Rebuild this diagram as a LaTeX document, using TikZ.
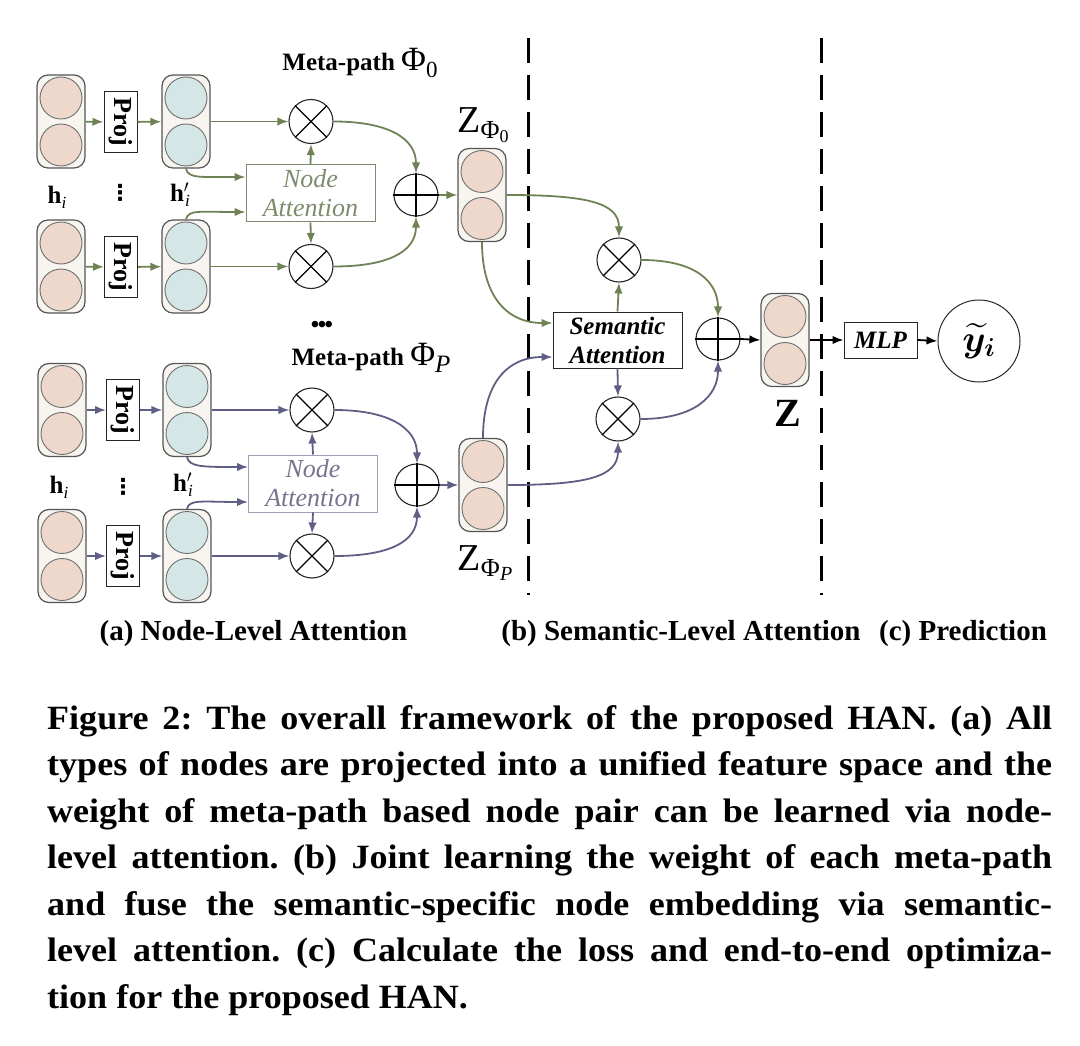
\documentclass[tikz,border=0pt]{standalone}
\usepackage{amsmath,bm}
\usepackage{fontspec}
\setmainfont{Liberation Serif}[ItalicFont={Liberation Serif Italic}, BoldFont={Liberation Serif Bold}, BoldItalicFont={Liberation Serif Bold Italic}]
\newfontfamily\capfont[FakeStretch=1.06]{Liberation Serif}
\newfontfamily\djv{DejaVu Sans}
\frenchspacing
\usetikzlibrary{arrows.meta,shapes.geometric}
\definecolor{grn}{HTML}{6F8255}
\definecolor{pur}{HTML}{5F5E85}
\definecolor{grnbox}{HTML}{7D8C6C}
\definecolor{purbox}{HTML}{A39DB8}
\definecolor{purtxt}{HTML}{77738F}
\definecolor{stk}{HTML}{555555}
\definecolor{stkfill}{HTML}{F8F5F0}
\definecolor{salmon}{HTML}{EDD8CB}
\definecolor{paleblue}{HTML}{D5E6E6}
\definecolor{cellline}{HTML}{707070}
\newcommand{\mystack}[3]{%
  \node[stackbox] (#1) at (#2) {};
  \node[cell, fill=#3] (#1a) at ([yshift=23.5pt]#1.center) {};
  \node[cell, fill=#3] (#1b) at ([yshift=-23.5pt]#1.center) {};}
\newcommand{\mulmark}[1]{%
  \draw[line width=1.1pt] (#1.north east) -- (#1.south west);
  \draw[line width=1.1pt] (#1.north west) -- (#1.south east);}
\newcommand{\addmark}[1]{%
  \draw[line width=1.1pt] (#1.north) -- (#1.south);
  \draw[line width=1.1pt] (#1.west) -- (#1.east);}
\begin{document}
\begin{tikzpicture}[x=1pt,y=-1pt,
  >={Latex[length=11pt,width=8.5pt]},
  conn/.style={line width=1.8pt, ->},
  gline/.style={conn, draw=grn},
  pline/.style={conn, draw=pur},
  kline/.style={conn, draw=black},
  stackbox/.style={draw=stk, fill=stkfill, rounded corners=11pt, minimum width=48pt, minimum height=93pt, line width=1.2pt, inner sep=0pt},
  cell/.style={circle, draw=cellline, line width=0.9pt, minimum size=42pt, inner sep=0pt},
  projbox/.style={draw=black!85, line width=1pt, fill=white, minimum width=61pt, minimum height=33pt, inner sep=0pt, rotate=-90, font=\fontsize{26}{26}\selectfont\bfseries},
  mulnode/.style={circle, draw=black!85, line width=1.1pt, minimum size=44pt, inner sep=0pt},
  addnode/.style={ellipse, draw=black!85, line width=1.1pt, minimum width=44pt, minimum height=42pt, inner sep=0pt},
  attbox/.style={draw, line width=1pt, minimum width=129pt, minimum height=57pt, inner sep=0pt, align=center, font=\fontsize{26}{29}\selectfont\itshape},
  divider/.style={line width=3pt, dash pattern=on 25pt off 12pt},
  lbl/.style={inner sep=0pt},
]
\useasboundingbox (0,0) rectangle (1080,1046);

% ---------- dividers ----------
\coordinate (d1t) at (528,38); \coordinate (d1b) at (528,595);
\coordinate (d2t) at (821,38); \coordinate (d2b) at (821,595);
\draw[divider] (d1t) -- (d1b);
\draw[divider] (d2t) -- (d2b);

% ---------- meta-path 0 ----------
\mystack{s1}{61,121.5}{salmon}
\mystack{s1o}{186,121.5}{paleblue}
\mystack{s2}{61,266.5}{salmon}
\mystack{s2o}{186,266.5}{paleblue}
\node[projbox] (p1) at (120.5,122) {Proj};
\node[projbox] (p2) at (121,267) {Proj};
\node[mulnode] (o1) at (311,121.5) {}; \mulmark{o1}
\node[mulnode] (o2) at (311,266.5) {}; \mulmark{o2}
\node[addnode] (a1) at (416,195) {}; \addmark{a1}
\node[attbox, draw=grnbox, text=grnbox] (na1) at (310.5,193.5) {Node\\Attention};
\mystack{z0}{482,195}{salmon}

\node[lbl] (mp0) at (360,63) {\fontsize{25}{25}\selectfont\bfseries Meta-path {\mdseries\fontsize{34}{34}\selectfont Φ}\raisebox{-7pt}{\mdseries\fontsize{23}{23}\selectfont 0}};
\node[lbl] (hi1) at (57,197) {\fontsize{25}{25}\selectfont\textbf{h}\raisebox{-5pt}{\fontsize{17}{17}\selectfont\itshape i}};
\node[lbl] (vd1) at (120,193) {\fontsize{22}{22}\selectfont\djv\bfseries ⋮};
\node[lbl] (hp1) at (180,195) {\fontsize{25}{25}\selectfont\textbf{h}$'$\kern-4pt\raisebox{-5pt}{\fontsize{17}{17}\selectfont\itshape i}};
\node[lbl] (lz0) at (483,125) {\fontsize{38}{38}\selectfont Z\raisebox{-6pt}{\fontsize{26}{26}\selectfont Φ\raisebox{-4pt}{\fontsize{18}{18}\selectfont 0}}};

\draw[gline] (s1) -- (p1);
\draw[gline] (p1) -- (s1o);
\draw[gline] (s2) -- (p2);
\draw[gline] (p2) -- (s2o);
\draw[gline] (s1o.east) -- (o1.west);
\draw[gline] (s2o.east) -- (o2.west);
\draw[gline] (s1o.south) .. controls +(2,10) and +(-45,0) .. ([yshift=16.5pt]na1.west);
\draw[gline] (s2o.north) .. controls +(2,-10) and +(-45,0) .. ([yshift=-18.5pt]na1.west);
\draw[gline] (na1.north) -- (o1.south);
\draw[gline] (na1.south) -- (o2.north);
\draw[gline] (o1.east) .. controls +(55,0) and +(0,-35) .. (a1.north);
\draw[gline] (o2.east) .. controls +(55,0) and +(0,35) .. (a1.south);
\draw[gline] (a1.east) -- (z0.west);

% ---------- meta-path P ----------
\node[lbl] (dots) at (322,327) {\fontsize{24}{24}\selectfont\bfseries •\kern-1.5pt•\kern-1.5pt•};
\node[lbl] (mpP) at (371,358) {\fontsize{25}{25}\selectfont\bfseries Meta-path {\mdseries\fontsize{34}{34}\selectfont Φ}\raisebox{-7pt}{\mdseries\itshape\fontsize{25}{25}\selectfont P}};
\mystack{s3}{62,410}{salmon}
\mystack{s3o}{187,410}{paleblue}
\mystack{s4}{62,556}{salmon}
\mystack{s4o}{187,556}{paleblue}
\node[projbox] (p3) at (123,410) {Proj};
\node[projbox] (p4) at (123,556) {Proj};
\node[mulnode] (o3) at (312,410) {}; \mulmark{o3}
\node[mulnode] (o4) at (312,556) {}; \mulmark{o4}
\node[addnode] (a2) at (417,485) {}; \addmark{a2}
\node[attbox, draw=purbox, text=purtxt] (na2) at (313,483.5) {Node\\Attention};
\mystack{zp}{483,485}{salmon}

\node[lbl] (hi2) at (59,487) {\fontsize{25}{25}\selectfont\textbf{h}\raisebox{-5pt}{\fontsize{17}{17}\selectfont\itshape i}};
\node[lbl] (vd2) at (123,487) {\fontsize{22}{22}\selectfont\djv\bfseries ⋮};
\node[lbl] (hp2) at (183,485) {\fontsize{25}{25}\selectfont\textbf{h}$'$\kern-4pt\raisebox{-5pt}{\fontsize{17}{17}\selectfont\itshape i}};
\node[lbl] (lzp) at (485,563) {\fontsize{38}{38}\selectfont Z\raisebox{-6pt}{\fontsize{26}{26}\selectfont Φ\raisebox{-4pt}{\itshape\fontsize{20}{20}\selectfont P}}};

\draw[pline] (s3) -- (p3);
\draw[pline] (p3) -- (s3o);
\draw[pline] (s4) -- (p4);
\draw[pline] (p4) -- (s4o);
\draw[pline] (s3o.east) -- (o3.west);
\draw[pline] (s4o.east) -- (o4.west);
\draw[pline] (s3o.south) .. controls +(2,10) and +(-45,0) .. ([yshift=16.5pt]na2.west);
\draw[pline] (s4o.north) .. controls +(2,-10) and +(-45,0) .. ([yshift=-18.5pt]na2.west);
\draw[pline] (na2.north) -- (o3.south);
\draw[pline] (na2.south) -- (o4.north);
\draw[pline] (o3.east) .. controls +(55,0) and +(0,-35) .. (a2.north);
\draw[pline] (o4.east) .. controls +(55,0) and +(0,35) .. (a2.south);
\draw[pline] (a2.east) -- (zp.west);

% ---------- semantic level ----------
\node[mulnode] (so1) at (619,260) {}; \mulmark{so1}
\node[mulnode] (so2) at (618,419) {}; \mulmark{so2}
\node[attbox, draw=black!85, minimum height=56pt, font=\fontsize{25}{29}\selectfont\bfseries\itshape] (sa) at (617.5,340) {Semantic\\Attention};
\node[addnode] (sp) at (718,339) {}; \addmark{sp}
\mystack{zz}{785,340}{salmon}
\node[lbl] (lz) at (788,413) {\fontsize{40}{40}\selectfont\bfseries Z};

\draw[gline] (z0.east) .. controls +(80,0) and +(0,-35) .. (so1.north);
\draw[gline] (z0.south) .. controls +(0,55) and +(-45,0) .. ([yshift=17pt]sa.west);
\draw[pline] (zp.north) .. controls +(0,-55) and +(-45,0) .. ([yshift=-17pt]sa.west);
\draw[pline] (zp.east) .. controls +(80,0) and +(0,35) .. (so2.south);
\draw[gline] (sa.north) -- (so1.south);
\draw[pline] (sa.south) -- (so2.north);
\draw[gline] (so1.east) .. controls +(55,0) and +(0,-35) .. (sp.north);
\draw[pline] (so2.east) .. controls +(55,0) and +(0,35) .. (sp.south);
\draw[kline] (sp.east) -- (zz.west);

% ---------- prediction ----------
\node[draw=black!85, line width=1pt, minimum width=73pt, minimum height=36pt, inner sep=0pt, font=\fontsize{25}{25}\selectfont\bfseries\itshape] (mlp) at (880.5,340) {MLP};
\node[circle, draw=black!85, line width=1pt, minimum size=82pt, inner sep=0pt] (yi) at (979,341) {\fontsize{24}{24}\selectfont\scalebox{1.5}{$\widetilde{\bm{y}}_{\bm{i}}$}};
\draw[kline] (zz.east) -- (mlp.west);
\draw[kline] (mlp.east) -- (yi.west);

% ---------- section labels ----------
\node[lbl] (la) at (253.5,634) {\fontsize{29}{29}\selectfont\bfseries (a) Node-Level Attention};
\node[lbl] (lb) at (681,634) {\fontsize{29}{29}\selectfont\bfseries (b) Semantic-Level Attention};
\node[lbl] (lc) at (963,634) {\fontsize{29}{29}\selectfont\bfseries (c) Prediction};

% ---------- caption ----------
\begin{scope}[every node/.style={anchor=base west, inner sep=0pt, font=\capfont\bfseries\fontsize{34}{40}\selectfont}]
\node (c1) at (47,729) {\makebox[1005pt][s]{Figure 2: The overall framework of the proposed HAN. (a) All}};
\node (c2) at (47,775.5) {\makebox[1005pt][s]{types of nodes are projected into a unified feature space and the}};
\node (c3) at (47,822) {\makebox[1005pt][s]{weight of meta-path based node pair can be learned via node-}};
\node (c4) at (47,868.5) {\makebox[1005pt][s]{level attention. (b) Joint learning the weight of each meta-path}};
\node (c5) at (47,915) {\makebox[1005pt][s]{and fuse the semantic-specific node embedding via semantic-}};
\node (c6) at (47,961.5) {\makebox[1005pt][s]{level attention. (c) Calculate the loss and end-to-end optimiza-}};
\node (c7) at (47,1008) {tion for the proposed HAN.};
\end{scope}
\end{tikzpicture}
\end{document}
